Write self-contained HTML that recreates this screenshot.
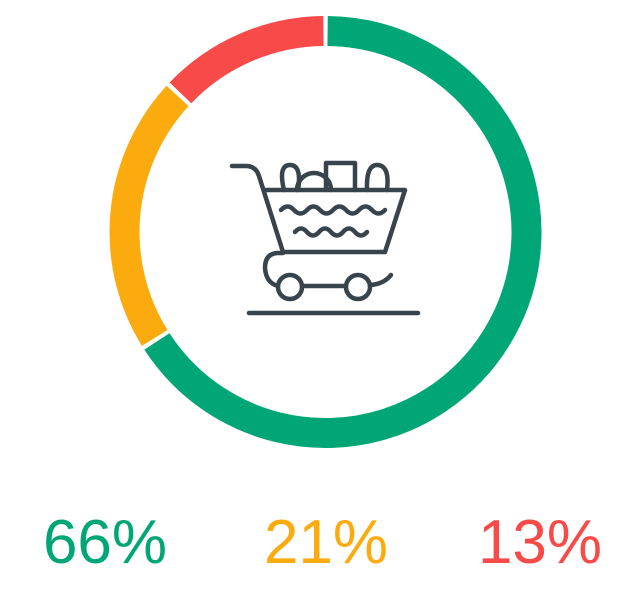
<!DOCTYPE html>
<html><head><meta charset="utf-8"><style>
html,body{margin:0;padding:0;background:#fff;width:629px;height:608px;overflow:hidden}
svg{display:block}
text{font-family:"Liberation Sans",sans-serif;font-size:62px}
</style></head><body>
<svg id="chart" width="629" height="608" viewBox="0 0 629 608">
<g id="ring"></g>
<g fill="none" stroke="#38444c" stroke-width="4.5" stroke-linecap="round" stroke-linejoin="round">
<path d="M232,166 H246 Q256,166 259,176 L283,252 H385 L405,190 H264"/>
<path d="M283,253 H277 Q265,254 265,268 Q266,283 278,286 M302,286 H346 M370,285 Q384,284 391,275"/>
<circle cx="290" cy="287" r="12"/><circle cx="358" cy="287" r="12"/>
<path d="M249,313 H418"/>
<path d="M284,190 Q278,165 290,165 Q302,165 298,190"/>
<path d="M297,190 A17,17 0 0 1 331,190"/>
<path d="M326,190 V163 H355 V190"/>
<path d="M367,190 Q366,165 377,165 Q390,165 387,190"/>
<path d="M281,210 q6.5,-7 13,0 t13,0 t13,0 t13,0 t13,0 t13,0 t13,0 t13,0"/>
<path d="M295,232 q6,-7 12,0 t12,0 t12,0 t12,0 t12,0 t12,0"/>
</g>
<g id="labels"></g>
</svg>
<script>
const categories=["Green","Orange","Red"];
const values=[66,21,13];
const colors=["#00a676","#fcab0f","#f94a4a"];
const labelX=[105,326,540];
const NS="http://www.w3.org/2000/svg";
const cx=325.5,cy=232,r=201,sw=30,gapDeg=1.2;
const ring=document.getElementById("ring"),lab=document.getElementById("labels");
const total=values.reduce((a,b)=>a+b,0);
function pt(a){const t=(a-90)*Math.PI/180;return [cx+r*Math.cos(t),cy+r*Math.sin(t)];}
let acc=0;
values.forEach((v,i)=>{
  const a0=acc/total*360+gapDeg/2, a1=(acc+v)/total*360-gapDeg/2; acc+=v;
  const p0=pt(a0),p1=pt(a1);
  const p=document.createElementNS(NS,"path");
  p.setAttribute("d",`M${p0[0]},${p0[1]} A${r},${r} 0 ${a1-a0>180?1:0} 1 ${p1[0]},${p1[1]}`);
  p.setAttribute("fill","none");p.setAttribute("stroke",colors[i]);p.setAttribute("stroke-width",sw);
  
  
  ring.appendChild(p);
  const t=document.createElementNS(NS,"text");
  t.setAttribute("x",labelX[i]);t.setAttribute("y",563);t.setAttribute("text-anchor","middle");t.setAttribute("fill",colors[i]);
  t.textContent=v+"%";
  
  
  lab.appendChild(t);
});
</script>
</body></html>
